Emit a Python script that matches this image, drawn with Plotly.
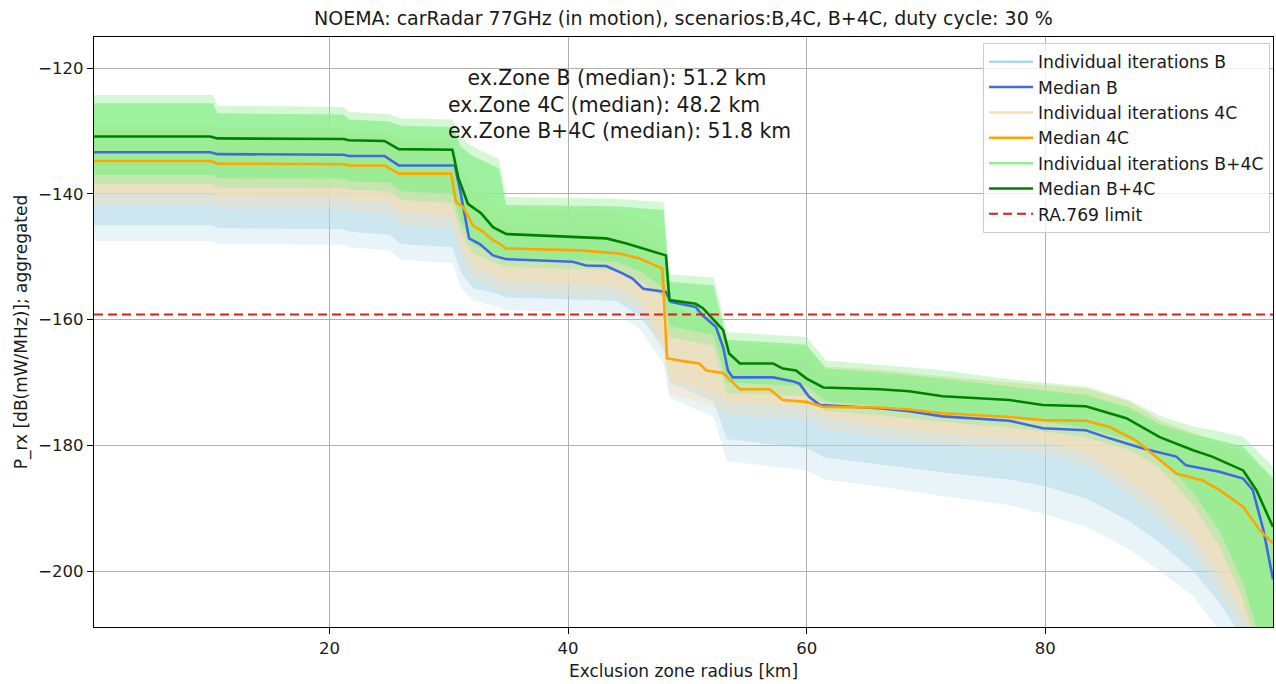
import plotly.graph_objects as go

# ---------------- data ----------------
title_text = "NOEMA: carRadar 77GHz (in motion), scenarios:B,4C, B+4C, duty cycle: 30 %"
ra769_limit = -159.2
x_range = [0.25, 99.1]
y_range = [-208.9, -115.07]
x_ticks = [20, 40, 60, 80]
y_ticks = [-200, -180, -160, -140, -120]

zone_labels = [
    "ex.Zone B (median): 51.2 km",
    "ex.Zone 4C (median): 48.2 km",
    "ex.Zone B+4C (median): 51.8 km",
]

# Median curves
med_b_x = [0.25, 10.0, 10.6, 21.2, 21.6, 24.6, 25.8, 30.5, 31.0, 31.7, 32.6, 33.7, 34.8, 40.4,
           41.5, 43.2, 44.6, 45.4, 46.3, 48.2, 48.6, 50.7, 51.2, 52.4, 53.0, 53.4, 53.8, 57.2,
           58.8, 59.4, 60.2, 61.1, 66.1, 68.6, 71.4, 77.0, 79.8, 83.4, 85.4, 88.2, 91.0, 91.8,
           94.6, 96.6, 97.4, 98.3, 99.1]
med_b_y = [-133.4, -133.4, -133.7, -133.8, -134.0, -134.0, -135.5, -135.5, -140.0, -147.1,
           -148.0, -149.8, -150.4, -150.8, -151.4, -151.5, -152.7, -153.5, -155.1, -155.6,
           -157.2, -158.0, -159.2, -161.2, -164.4, -168.1, -169.2, -169.2, -169.8, -170.2,
           -172.3, -173.6, -174.1, -174.6, -175.4, -176.1, -177.3, -177.6, -178.9, -180.5,
           -181.8, -183.2, -184.2, -185.3, -187.1, -193.5, -201.3]

med_4c_x = [0.25, 10.0, 10.6, 21.2, 21.6, 24.6, 25.8, 30.2, 30.6, 31.2, 32.0, 32.9, 33.7, 34.2,
            34.8, 41.0, 44.3, 46.0, 47.9, 48.3, 49.9, 51.0, 51.6, 53.0, 54.4, 56.9, 58.0, 60.0,
            61.4, 66.1, 68.6, 71.4, 77.0, 79.8, 83.4, 85.4, 87.6, 89.6, 91.0, 93.2, 94.6, 96.6,
            98.0, 99.1]
med_4c_y = [-134.8, -134.8, -135.2, -135.3, -135.5, -135.5, -136.8, -136.8, -141.3, -142.1,
            -145.0, -146.1, -147.4, -147.9, -148.7, -149.0, -149.5, -150.3, -151.9, -166.2,
            -166.7, -167.0, -168.1, -168.5, -171.1, -171.1, -172.8, -173.1, -173.9, -174.0,
            -174.3, -174.9, -175.5, -176.0, -176.1, -177.1, -179.2, -182.4, -184.5, -185.6,
            -187.1, -189.8, -193.5, -195.6]

med_b4c_x = [0.25, 10.0, 10.6, 21.2, 21.6, 24.6, 25.8, 30.3, 30.8, 31.6, 32.7, 33.7, 34.8, 41.0,
             43.2, 44.9, 46.3, 48.2, 48.5, 50.7, 51.3, 52.2, 53.0, 53.5, 54.4, 57.2, 58.0, 59.1,
             60.0, 61.4, 66.1, 68.6, 71.4, 77.0, 79.8, 83.4, 86.8, 89.6, 92.4, 94.0, 96.6, 97.7,
             99.1]
med_b4c_y = [-130.9, -130.9, -131.2, -131.3, -131.5, -131.6, -132.9, -133.0, -137.5, -141.6,
             -143.1, -145.3, -146.4, -146.9, -147.1, -147.9, -148.7, -149.8, -156.9, -157.5,
             -158.2, -160.0, -161.7, -165.4, -167.0, -167.0, -167.8, -168.1, -169.4, -170.8,
             -171.1, -171.4, -172.2, -172.8, -173.6, -173.8, -175.7, -178.7, -180.8, -181.8,
             -184.0, -187.1, -193.0]

# Spread of the individual iterations (envelopes)
band_x = [0.25, 10.2, 10.6, 21.2, 21.6, 25.0, 26.0, 30.3, 31.0, 32.0, 34.2, 34.8, 44.0, 46.0,
          48.0, 48.5, 52.2, 53.3, 60.0, 61.6, 66.0, 71.0, 77.0, 80.0, 83.5, 87.0, 89.6, 92.4,
          94.6, 96.6, 97.7, 99.1]

b_hi = [-130.0, -130.0, -130.4, -130.5, -130.8, -131.0, -132.0, -132.2, -138.0, -142.0, -144.5,
        -145.0, -145.5, -147.0, -149.0, -160.0, -161.0, -165.5, -166.0, -169.0, -169.5, -170.5,
        -171.5, -172.0, -172.5, -174.5, -177.0, -179.0, -180.5, -182.0, -184.0, -187.0]
b_lo_dense = [-145.0, -145.0, -145.5, -145.6, -146.0, -146.5, -148.0, -148.5, -152.5, -155.0,
              -156.0, -156.5, -157.0, -159.5, -164.5, -170.0, -173.0, -179.0, -180.5, -182.0,
              -183.0, -184.2, -185.5, -186.5, -188.5, -192.0, -195.5, -200.0, -205.0, -211.0,
              -214.0, -216.0]
b_lo = [-147.5, -147.5, -148.0, -148.1, -148.5, -149.0, -150.5, -151.0, -155.0, -157.0, -158.0,
        -158.5, -159.0, -161.5, -167.0, -172.5, -175.5, -182.5, -184.0, -185.5, -186.5, -188.0,
        -189.5, -191.0, -193.0, -196.5, -200.0, -204.0, -209.5, -215.0, -217.0, -218.0]

c4_hi = [-129.0, -129.0, -129.5, -129.6, -130.0, -130.2, -131.2, -131.4, -136.0, -139.0, -142.0,
         -142.5, -143.0, -144.0, -146.0, -158.0, -160.0, -164.0, -164.5, -167.5, -168.0, -169.0,
         -170.0, -170.5, -171.0, -173.0, -176.0, -178.0, -179.5, -181.0, -183.0, -185.5]
c4_lo_dense = [-140.0, -140.0, -140.5, -140.6, -141.0, -141.3, -143.0, -143.5, -148.0, -151.5,
               -153.3, -153.8, -154.8, -157.0, -163.5, -169.5, -171.8, -173.2, -173.8, -175.5,
               -177.0, -178.0, -179.0, -179.5, -181.3, -185.5, -189.5, -194.5, -200.5, -207.0,
               -212.0, -215.0]
c4_lo = [-141.8, -141.8, -142.3, -142.4, -142.8, -143.2, -145.0, -145.5, -150.0, -153.5, -155.2,
         -155.7, -156.7, -158.5, -165.5, -171.8, -173.8, -175.2, -175.8, -177.5, -178.7, -179.7,
         -180.7, -181.2, -183.2, -187.8, -192.0, -197.0, -203.5, -209.5, -214.0, -216.0]

b4c_hi = [-124.3, -124.3, -126.0, -126.2, -127.0, -127.3, -128.0, -128.2, -131.0, -132.5, -134.5,
          -140.5, -140.8, -141.0, -141.3, -152.8, -153.3, -162.0, -162.8, -166.5, -167.2, -168.0,
          -169.5, -170.0, -170.7, -172.8, -175.3, -177.0, -177.8, -178.7, -180.8, -183.4]
b4c_hi_dense = [-125.6, -125.6, -127.2, -127.4, -128.2, -128.5, -129.2, -129.4, -132.5, -134.0,
                -136.0, -141.8, -142.0, -142.3, -142.6, -154.0, -154.6, -163.2, -164.0, -167.8,
                -168.4, -169.3, -170.7, -171.3, -172.0, -174.0, -176.6, -178.3, -179.2, -180.2,
                -182.5, -185.2]
b4c_lo_dense = [-137.0, -137.0, -137.5, -137.6, -138.0, -138.2, -139.6, -140.0, -144.5, -148.0,
                -149.8, -150.2, -150.8, -152.3, -155.0, -161.0, -162.5, -170.0, -170.6, -173.0,
                -173.7, -174.7, -175.7, -176.3, -177.3, -179.2, -182.0, -187.5, -193.5, -202.0,
                -209.0, -213.0]
b4c_lo = [-138.5, -138.5, -139.0, -139.1, -139.4, -139.6, -141.0, -141.5, -146.0, -149.5, -151.2,
          -151.6, -152.2, -153.8, -156.5, -162.8, -164.2, -171.7, -172.2, -174.6, -175.2, -176.2,
          -177.2, -177.8, -178.8, -180.7, -183.6, -189.5, -196.0, -204.5, -212.0, -215.0]

# ---------------- styling ----------------
FONT = "DejaVu Sans"
col_lightblue = (173, 216, 230)
col_wheat = (245, 222, 179)
col_lightgreen = (144, 238, 144)


def rgba(c, a):
    return f"rgba({c[0]},{c[1]},{c[2]},{a})"


fig = go.Figure()


def add_band(xs, lo, hi, color, alpha, group):
    fig.add_trace(go.Scatter(x=xs, y=lo, mode="lines", line=dict(width=0),
                             showlegend=False, hoverinfo="skip", legendgroup=group))
    fig.add_trace(go.Scatter(x=xs, y=hi, mode="lines", line=dict(width=0),
                             fill="tonexty", fillcolor=rgba(color, alpha),
                             showlegend=False, hoverinfo="skip", legendgroup=group))


# iteration clouds: faint outer envelope + denser core
add_band(band_x, b_lo, b_hi, col_lightblue, 0.28, "itB")
add_band(band_x, b_lo_dense, b_hi, col_lightblue, 0.45, "itB")
add_band(band_x, c4_lo, c4_hi, col_wheat, 0.35, "it4C")
add_band(band_x, c4_lo_dense, c4_hi, col_wheat, 0.6, "it4C")
add_band(band_x, b4c_lo, b4c_hi, col_lightgreen, 0.4, "itB4C")
add_band(band_x, b4c_lo_dense, b4c_hi_dense, col_lightgreen, 0.78, "itB4C")

# legend handles for the iteration clouds
for name, col, grp, rank in [("Individual iterations B", col_lightblue, "itB", 1),
                             ("Individual iterations 4C", col_wheat, "it4C", 3),
                             ("Individual iterations B+4C", col_lightgreen, "itB4C", 5)]:
    fig.add_trace(go.Scatter(x=[None], y=[None], mode="lines", name=name,
                             line=dict(color=rgba(col, 1), width=2.5),
                             legendgroup=grp, legendrank=rank))

# medians
fig.add_trace(go.Scatter(x=med_b_x, y=med_b_y, mode="lines", name="Median B",
                         line=dict(color="#4169E1", width=2.6), legendgroup="mB", legendrank=2))
fig.add_trace(go.Scatter(x=med_4c_x, y=med_4c_y, mode="lines", name="Median 4C",
                         line=dict(color="#FFA500", width=2.6), legendgroup="m4C", legendrank=4))
fig.add_trace(go.Scatter(x=med_b4c_x, y=med_b4c_y, mode="lines", name="Median B+4C",
                         line=dict(color="#008000", width=2.6), legendgroup="mB4C", legendrank=6))

# protection limit
fig.add_trace(go.Scatter(x=x_range, y=[ra769_limit, ra769_limit], mode="lines",
                         name="RA.769 limit", legendgroup="lim", legendrank=7,
                         line=dict(color="#d91e1e", width=2, dash="9px,5px")))

# exclusion-zone summary block
zone_text = "&nbsp;&nbsp;&nbsp;" + zone_labels[0] + "<br>" + "<br>".join(zone_labels[1:])
fig.add_annotation(text=zone_text, xref="paper", yref="paper", x=0.2985, y=0.886,
                   xanchor="left", yanchor="middle", align="left", showarrow=False,
                   font=dict(family=FONT, size=20.4, color="#1a1a1a"))

axis_common = dict(showgrid=True, gridcolor="#b0b0b0", gridwidth=1, zeroline=False,
                   showline=True, linecolor="black", linewidth=1.2, mirror=True,
                   ticks="outside", ticklen=6, tickcolor="black", tickwidth=1.2,
                   tickfont=dict(family=FONT, size=16.5, color="#1a1a1a"))

fig.update_xaxes(range=x_range, tickvals=x_ticks, ticktext=[str(v) for v in x_ticks],
                 title=dict(text="Exclusion zone radius [km]", standoff=8,
                            font=dict(family=FONT, size=17, color="#1a1a1a")),
                 **axis_common)
fig.update_yaxes(range=y_range, tickvals=y_ticks,
                 ticktext=["\u2212" + str(abs(v)) for v in y_ticks],
                 title=dict(text="P_rx [dB(mW/MHz)]; aggregated", standoff=6,
                            font=dict(family=FONT, size=17, color="#1a1a1a")),
                 **axis_common)

fig.update_layout(
    width=1276, height=684,
    margin=dict(l=94, r=3, t=37, b=57),
    paper_bgcolor="white", plot_bgcolor="white",
    title=dict(text=title_text, x=0.5356, xanchor="center", y=0.973, yanchor="middle",
               font=dict(family=FONT, size=19, color="#1a1a1a")),
    legend=dict(x=0.9975, xanchor="right", y=0.9898, yanchor="top",
                bgcolor="rgba(255,255,255,0.8)", bordercolor="#cccccc", borderwidth=1,
                font=dict(family=FONT, size=17.2, color="#1a1a1a"),
                itemwidth=44, tracegroupgap=5, traceorder="normal"),
    showlegend=True,
)

fig.write_html("out.html")
